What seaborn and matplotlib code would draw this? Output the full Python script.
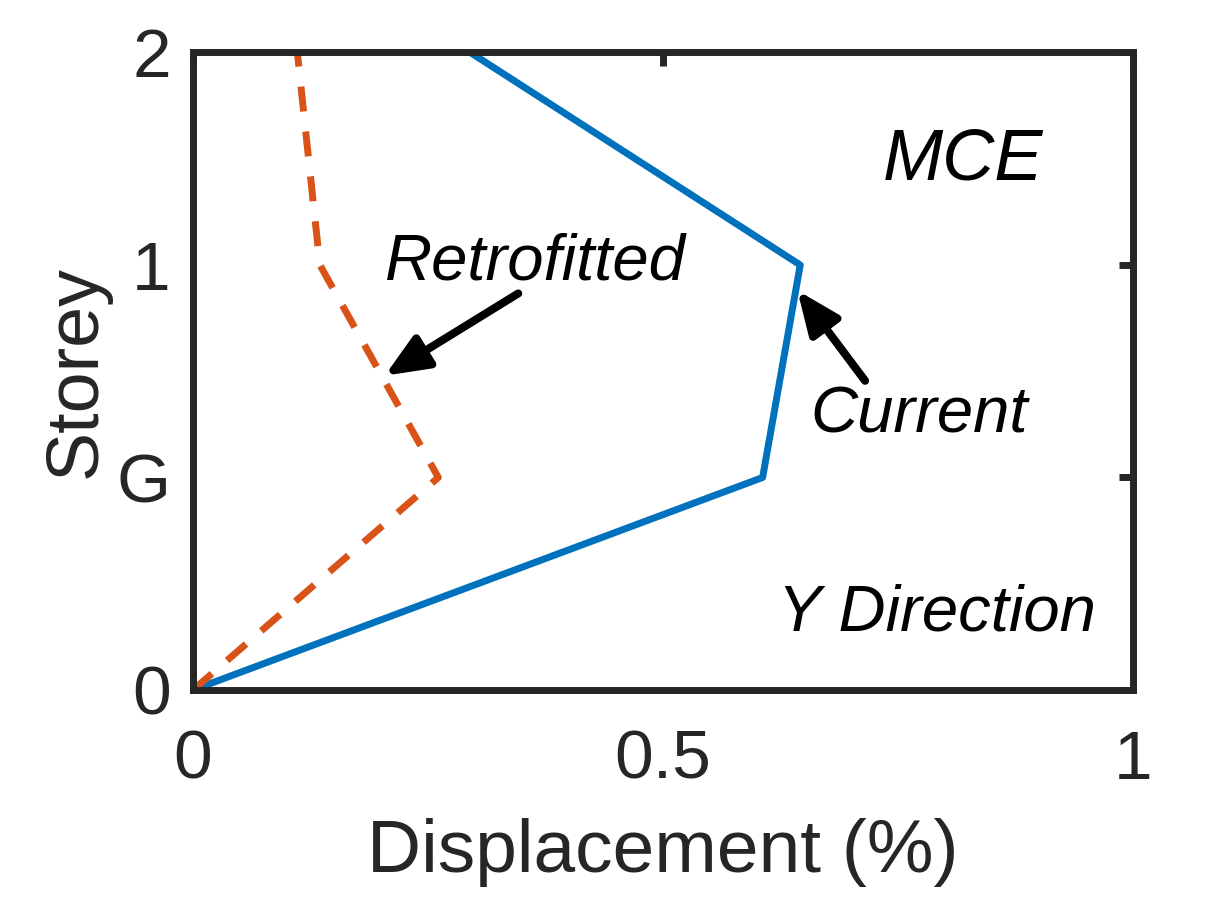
import matplotlib
matplotlib.use('Agg')
import matplotlib.pyplot as plt
import seaborn as sns

storey = [0, 1, 2, 3]
storey_labels = ['0', 'G', '1', '2']
current = [0, 0.606, 0.646, 0.295]
retrofitted = [0, 0.261, 0.135, 0.111]
x_ticks = [0, 0.5, 1]
x_tick_labels = ['0', '0.5', '1']

sns.set_style('white')
plt.rcParams['font.family'] = ['Liberation Sans', 'DejaVu Sans']

fig = plt.figure(figsize=(12.23, 9.11), dpi=100)
ax = fig.add_axes([0.1578, 0.2426, 0.7686, 0.6998])

sns.lineplot(x=current, y=storey, sort=False, estimator=None, color='#0072BD', linewidth=5, ax=ax)
sns.lineplot(x=retrofitted, y=storey, sort=False, estimator=None, color='#D95319', linewidth=5,
             linestyle=(0, (3.6, 2.9)), ax=ax)

ax.set_xlim(0, 1)
ax.set_ylim(0, 3)
ax.set_xticks(x_ticks)
ax.set_xticklabels(x_tick_labels)
ax.set_yticks(storey)
ax.set_yticklabels(storey_labels)

for s in ax.spines.values():
    s.set_visible(True)
    s.set_color('#262626')
    s.set_linewidth(5)
ax.tick_params(direction='in', length=10, width=5, color='#262626', labelcolor='#262626',
               labelsize=50, top=True, right=True)
ax.tick_params(axis='x', pad=28)
ax.tick_params(axis='y', pad=16)

ax.set_xlabel('Displacement (%)', fontsize=54, color='#262626', labelpad=18)
ax.set_ylabel('Storey', fontsize=53, color='#262626', labelpad=4)

ax.text(0.819, 2.49, 'MCE', fontsize=52, style='italic', ha='center', va='center', color='k')
ax.text(0.791, 0.36, 'Y Direction', fontsize=47, style='italic', ha='center', va='center', color='k')

arrow = dict(arrowstyle='-|>,head_length=2.6,head_width=1.1', lw=5.8, color='k',
             shrinkA=0, shrinkB=0, mutation_scale=10)
ax.annotate('', xy=(0.204, 1.479), xytext=(0.346, 1.866), arrowprops=arrow)
ax.text(0.364, 2.01, 'Retrofitted', fontsize=47, style='italic', ha='center', va='center', color='k')
ax.annotate('', xy=(0.643, 1.88), xytext=(0.715, 1.455), arrowprops=arrow)
ax.text(0.773, 1.29, 'Current', fontsize=47, style='italic', ha='center', va='center', color='k')

fig.savefig('out.png', dpi=100, facecolor='white')
